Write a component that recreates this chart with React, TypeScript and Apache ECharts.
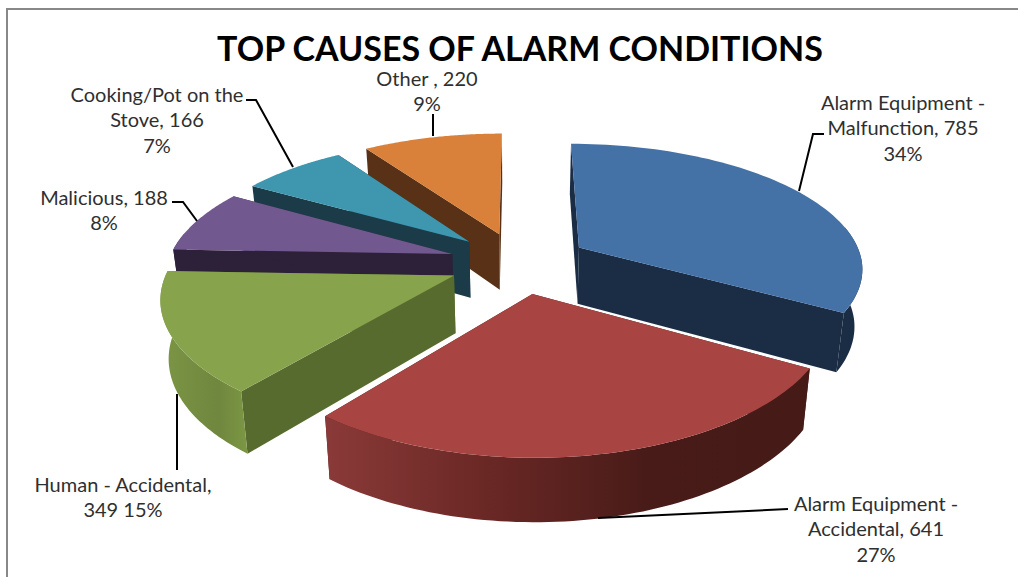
import React, { useEffect, useRef } from "react";
import * as echarts from "echarts";

// Data
const categories = [
  "Alarm Equipment -\nMalfunction",
  "Alarm Equipment -\nAccidental",
  "Human - Accidental",
  "Malicious",
  "Cooking/Pot on the\nStove",
  "Other ",
];
const values = [785, 641, 349, 188, 166, 220];
const percentLabels = ["34%", "27%", "15%", "8%", "7%", "9%"];
const valueSeparators = [", ", ", ", ",\n", ", ", ", ", ", "];
const percentSeparators = ["\n", "\n", " ", "\n", "\n", "\n"];

// Styles
const topColors = ["#4471A6", "#A84442", "#87A44D", "#71588F", "#3F97AF", "#D9813A"];
const wallColors = ["#1B2D45", "#4A1D1A", "#586B2F", "#2C2138", "#1A3B47", "#583116"];
const rimStops: string[][] = [
  ["#1B2D45", "#1B2D45"],
  ["#8A3A38", "#6A2825", "#481B18", "#451A17"],
  ["#7C9645", "#758E41", "#6F873E", "#7C9744"],
  ["#2C2138", "#2C2138"],
  ["#1A3B47", "#1A3B47"],
  ["#583116", "#583116"],
];
const drawOrder = [5, 4, 3, 0, 2, 1];

// Layout of the tilted pie
const CX = 519, CY = 259, RX = 284, RY = 124, PX_BACK = 0.155, PX_FRONT = 0.15, PY = 0.18;
const EXPLODE = 0.248;
const labelCenters = [[903, 102], [876, 503], [123, 484], [104, 197], [157, 94], [427, 78]];
const leaders = [
  [[824, 134], [813, 134], [799, 191]],
  [[788, 509], [598, 518]],
  [[177, 394], [177, 470]],
  [[172, 202], [183, 202], [197, 221]],
  [[246, 100], [256, 100], [293, 167]],
  [[433, 114], [433, 136]],
];

const total = values.reduce((a, b) => a + b, 0);

function projectTop(x: number, y: number) {
  const px = y > 0 ? PX_BACK : PX_FRONT;
  return [
    CX + (RX * x) / (1 + px * y),
    CY - (RY * y) / (1 + PY * y) + 3.5 * (1 - (y * y) / 1.56),
  ];
}
function projectBottom(x: number, y: number) {
  const t = projectTop(x, y);
  return [CX + (t[0] - CX) * 0.977, t[1] + 57 - 6 * y];
}

function renderSlice(params: any, api: any) {
  const idx = drawOrder[params.dataIndex];
  let before = 0;
  for (let i = 0; i < idx; i++) before += values[i];
  const a0 = (before / total) * Math.PI * 2;
  const a1 = ((before + api.value(0)) / total) * Math.PI * 2;
  const mid = (a0 + a1) / 2;
  const ox = EXPLODE * Math.sin(mid);
  const oy = EXPLODE * Math.cos(mid);
  const rim = (a: number) => [ox + Math.sin(a), oy + Math.cos(a)];
  const steps = 72;
  const topArc: number[][] = [];
  for (let i = 0; i <= steps; i++) {
    const p = rim(a0 + ((a1 - a0) * i) / steps);
    topArc.push(projectTop(p[0], p[1]));
  }
  const apexT = projectTop(ox, oy);
  const apexB = projectBottom(ox, oy);
  const wall = (a: number) => {
    const p = rim(a);
    return [apexT, projectTop(p[0], p[1]), projectBottom(p[0], p[1]), apexB];
  };
  const children: any[] = [];
  const addPoly = (points: number[][], fill: any) =>
    children.push({ type: "polygon", shape: { points }, style: { fill, stroke: null } });
  addPoly(wall(a0), wallColors[idx]);
  addPoly(wall(a1), wallColors[idx]);
  const lo = Math.max(a0, (80 * Math.PI) / 180);
  const hi = Math.min(a1, (280 * Math.PI) / 180);
  if (hi > lo) {
    const up: number[][] = [];
    const down: number[][] = [];
    for (let i = 0; i <= steps; i++) {
      const p = rim(lo + ((hi - lo) * i) / steps);
      up.push(projectTop(p[0], p[1]));
      down.push(projectBottom(p[0], p[1]));
    }
    const stops = rimStops[idx];
    addPoly(up.concat(down.reverse()), {
      type: "linear",
      x: 0,
      y: 0,
      x2: 1,
      y2: 0,
      colorStops: stops.map((color, i) => ({ offset: i / (stops.length - 1), color })),
    });
  }
  addPoly([apexT, ...topArc], topColors[idx]);
  return { type: "group", children };
}

export default function App() {
  const ref = useRef<HTMLDivElement>(null);
  useEffect(() => {
    const chart = echarts.init(ref.current!, null, { renderer: "svg" });
    const graphics: any[] = [
      {
        type: "polyline",
        silent: true,
        shape: { points: [[7, 577], [7, 9], [1018, 9]] },
        style: { stroke: "#888888", lineWidth: 2, fill: null },
      },
    ];
    categories.forEach((name, i) => {
      graphics.push({
        type: "polyline",
        silent: true,
        z: 20,
        shape: { points: leaders[i] },
        style: { stroke: "#000000", lineWidth: 2, fill: null },
      });
      graphics.push({
        type: "text",
        silent: true,
        z: 20,
        x: labelCenters[i][0],
        y: labelCenters[i][1] - 13,
        style: {
          text: name + valueSeparators[i] + values[i] + percentSeparators[i] + percentLabels[i],
          fontFamily: "Lato",
          fontSize: 20,
          lineHeight: 25.5,
          fill: "#2f2f2f",
          align: "center",
          verticalAlign: "top",
        },
      });
    });
    chart.setOption({
      animation: false,
      backgroundColor: "#ffffff",
      title: {
        text: "TOP CAUSES OF ALARM CONDITIONS",
        left: 515,
        top: 25,
        textAlign: "center",
        textStyle: { fontFamily: "Lato", fontWeight: "bold", fontSize: 34, color: "#000000" },
      },
      graphic: { elements: graphics },
      series: [
        {
          type: "custom",
          coordinateSystem: "none",
          silent: true,
          renderItem: renderSlice,
          data: drawOrder.map((i) => [values[i]]),
        },
      ],
    });
    return () => chart.dispose();
  }, []);
  return <div ref={ref} style={{ position: "fixed", left: 0, top: 0, width: 1018, height: 577 }} />;
}
